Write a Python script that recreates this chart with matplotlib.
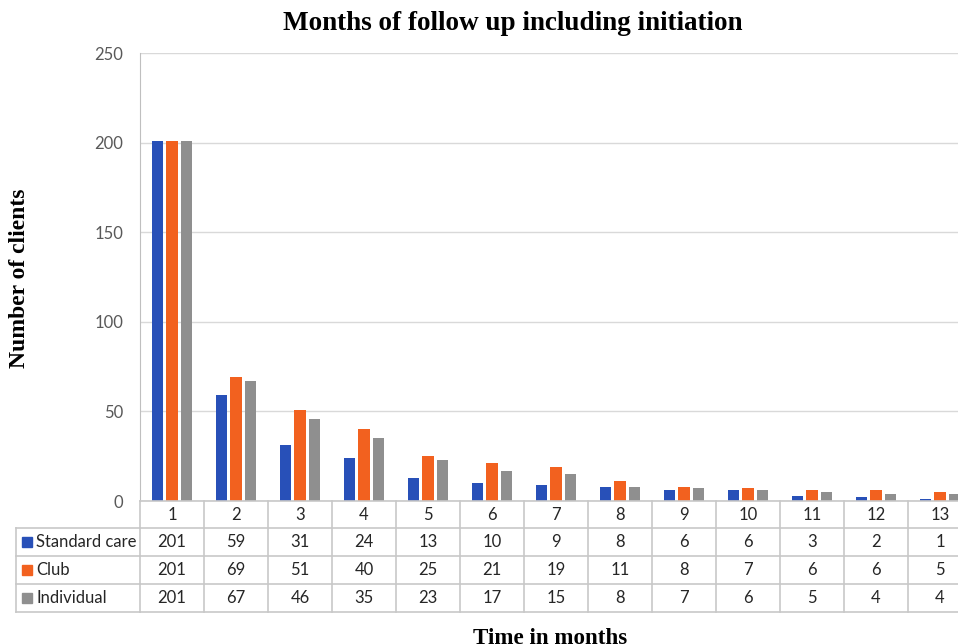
import matplotlib.pyplot as plt
import matplotlib.transforms as mtransforms
from matplotlib.lines import Line2D
from matplotlib.patches import Rectangle
import numpy as np

months = ['1', '2', '3', '4', '5', '6', '7', '8', '9', '10', '11', '12', '13']
standard_care = [201, 59, 31, 24, 13, 10, 9, 8, 6, 6, 3, 2, 1]
club = [201, 69, 51, 40, 25, 21, 19, 11, 8, 7, 6, 6, 5]
individual = [201, 67, 46, 35, 23, 17, 15, 8, 7, 6, 5, 4, 4]

series_names = ['Standard care', 'Club', 'Individual']
series_values = [standard_care, club, individual]
colors = ['#2850B8', '#F2611F', '#8F8F8F']

W, H = 958, 644
fig = plt.figure(figsize=(W / 100, H / 100), dpi=100)
ax = fig.add_axes([140 / W, 1 - 501 / H, 832 / W, 448 / H])

x = np.arange(len(months))
offsets = [-0.219, 0.0, 0.219]
for vals, off, c in zip(series_values, offsets, colors):
    ax.bar(x + off, vals, width=0.172, color=c, zorder=3)

ax.set_xlim(-0.5, len(months) - 0.5)
ax.set_ylim(0, 250)
ax.set_yticks(range(0, 251, 50))
ax.grid(axis='y', color='#D9D9D9', linewidth=1, zorder=0)
ax.set_xticks([])
for s in ['top', 'right', 'bottom']:
    ax.spines[s].set_visible(False)
ax.spines['left'].set_color('#BFBFBF')
ax.tick_params(axis='y', length=0, pad=12, labelsize=12, labelcolor='#595959')
for lab in ax.get_yticklabels():
    lab.set_fontfamily('Lato')

# data table under the axis
tr = mtransforms.blended_transform_factory(ax.transData, fig.transFigure)
def fy(py):
    return 1 - py / H

line_kw = dict(color='#C8C8C8', linewidth=1.2, clip_on=False)
rows_y = [501, 528, 556, 584, 612]
# horizontal lines across category columns
for py in rows_y:
    fig.add_artist(Line2D([-0.5, len(months) - 0.5], [fy(py), fy(py)], transform=tr, **line_kw))
# horizontal lines in the label column
for py in rows_y[1:]:
    fig.add_artist(Line2D([16 / W, 140 / W], [fy(py), fy(py)], transform=fig.transFigure, **line_kw))
fig.add_artist(Line2D([16 / W, 16 / W], [fy(528), fy(612)], transform=fig.transFigure, **line_kw))
for b in np.arange(-0.5, len(months)):
    fig.add_artist(Line2D([b, b], [fy(501), fy(612)], transform=tr, **line_kw))

txt_kw = dict(fontsize=12, color='#262626', family='Lato', ha='center', va='center')
for i, m in enumerate(months):
    fig.text(i, fy(515), m, transform=tr, **txt_kw)
row_centers = [542, 570, 598]
for name, vals, c, py in zip(series_names, series_values, colors, row_centers):
    fig.add_artist(Rectangle((22 / W, fy(py) - 5 / H), 10 / W, 10 / H,
                             transform=fig.transFigure, color=c))
    fig.text(36 / W, fy(py), name, fontsize=12, color='#262626', family='Lato',
             ha='left', va='center')
    for i, v in enumerate(vals):
        fig.text(i, fy(py), str(v), transform=tr, **txt_kw)

fig.text(513 / W, fy(24), 'Months of follow up including initiation', fontsize=19.5,
         fontweight='bold', family='Liberation Serif', ha='center', va='center')
fig.text(20 / W, fy(278), 'Number of clients', fontsize=17, fontweight='bold',
         family='Liberation Serif', rotation=90, ha='center', va='center')
fig.text(550 / W, fy(639), 'Time in months', fontsize=16.6, fontweight='bold',
         family='Liberation Serif', ha='center', va='center')

fig.savefig('out.png', dpi=100)
